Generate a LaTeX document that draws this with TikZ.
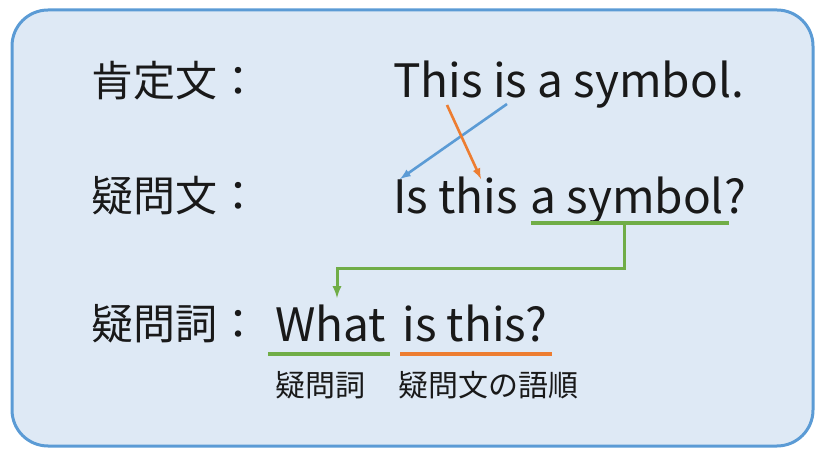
\documentclass[tikz,border=0pt]{standalone}
\usepackage{fontspec}
\setmainfont{Noto Sans CJK JP}
\usetikzlibrary{positioning}

\definecolor{boxfill}{HTML}{DEE9F5}
\definecolor{boxline}{HTML}{5B9BD5}
\definecolor{mygreen}{HTML}{70AD47}
\definecolor{myorange}{HTML}{ED7D31}
\definecolor{myblue}{HTML}{5B9BD5}

\begin{document}
\begin{tikzpicture}[x=1pt,y=-1pt,
    every node/.style={inner sep=0pt,text=black!90},
    label/.style={anchor=base west,font=\fontsize{42}{42}\selectfont},
    sent/.style={anchor=base west,font=\fontsize{46}{46}\selectfont},
    note/.style={anchor=base west,font=\fontsize{30}{30}\selectfont},
    uline/.style={line width=3.5pt}]
    \useasboundingbox (0,0) rectangle (815,449);
    \draw[boxline,fill=boxfill,line width=3pt,rounded corners=36pt] (12,10) rectangle (813,446);

    % left column
    \node[label] (l1) at (91,97) {肯定文：};
    \node[label] (l2) at (91,212) {疑問文：};
    \node[label] (l3) at (91,340) {疑問詞：};

    % sentences
    \node[sent] (s1) at (393,98) {This is a symbol.};
    \node[sent] (q1) at (393,214) {Is this};
    \node[sent,base right=12pt of q1] (q2) {a symbol};
    \node[sent,base right=0pt of q2] (q3) {?};
    \node[sent] (w1) at (275,342) {What};
    \node[sent,base right=16pt of w1] (w2) {is this?};

    % notes
    \node[note] (n1) at (275,397) {疑問詞};
    \node[note] (n2) at (398,397) {疑問文の語順};

    % swap arrows
    \coordinate (bs) at (507,104);
    \coordinate (be) at (400,179);
    \coordinate (os) at (447,105);
    \coordinate (oe) at (481,179);
    \draw[myblue,line width=2.6pt,-latex] (bs) -- (be);
    \draw[myorange,line width=2.6pt,-latex] (os) -- (oe);

    % underlines
    \draw[mygreen,uline] ([xshift=1pt,yshift=-9pt]q2.base west) -- ([xshift=5pt,yshift=-9pt]q2.base east)
        coordinate[pos=0.47] (gu);
    \draw[mygreen,uline] ([xshift=-7pt,yshift=-12pt]w1.base west) -- ([xshift=4pt,yshift=-12pt]w1.base east);
    \draw[myorange,uline] ([xshift=-2pt,yshift=-12pt]w2.base west) -- ([xshift=4pt,yshift=-12pt]w2.base east);

    % green elbow
    \coordinate (gt) at (337,298);
    \draw[mygreen,line width=3pt,-latex] ([yshift=-2pt]gu) |- (337,269) -- (gt);
\end{tikzpicture}
\end{document}
